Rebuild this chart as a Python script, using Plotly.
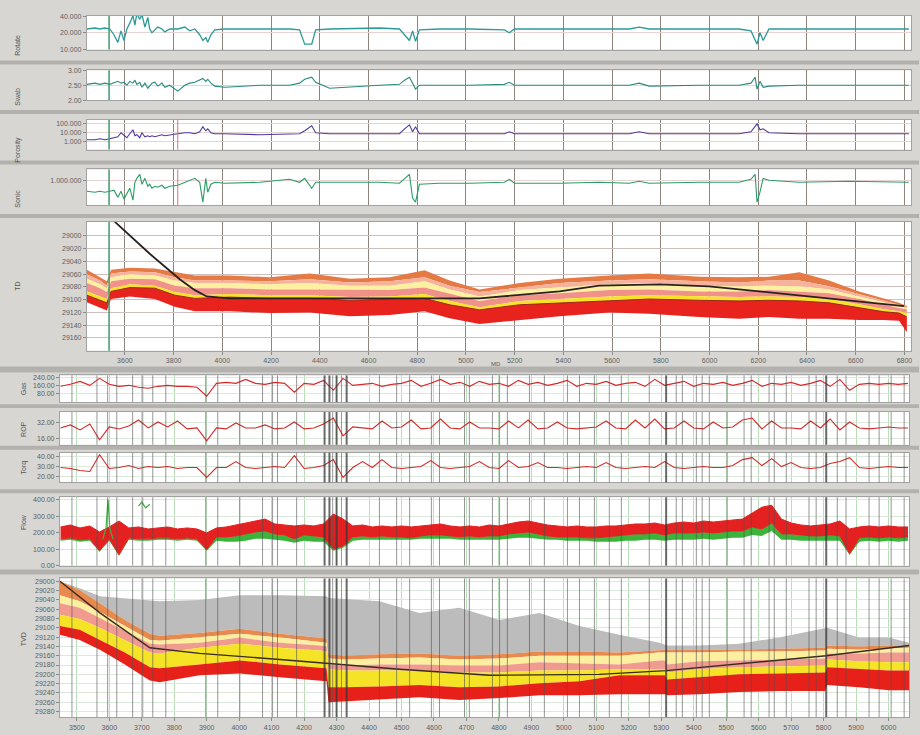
import plotly.graph_objects as go

# ---------------- upper section: MD-indexed tracks ----------------
MD_TICKS = list(range(3600, 6801, 200))
TVD_TICKS = list(range(29000, 29161, 20))

TRK_MD = [3444, 3477, 3497, 3518, 3538, 3555, 3571, 3584, 3596, 3608, 3620, 3633, 3641, 3649,
          3661, 3670, 3682, 3694, 3702, 3711, 3723, 3735, 3752, 3764, 3784, 3817, 3846, 3866,
          3887, 3907, 3920, 3932, 3940, 3953, 3969, 4010, 4153, 4276, 4317, 4338, 4367, 4383,
          4440, 4645, 4727, 4748, 4768, 4781, 4793, 4809, 4891, 5014, 5158, 5178, 5199, 5383,
          5547, 5670, 5711, 5752, 5957, 6121, 6170, 6187, 6195, 6207, 6220, 6244, 6367, 6572,
          6736, 6818]

ROTATE = [23500, 24500, 23500, 24500, 23500, 18400, 13300, 21700, 14400, 23500, 30100, 41700,
          27700, 45200, 35400, 43500, 25500, 38400, 23500, 20000, 22600, 25500, 23500, 20800,
          23500, 23500, 25500, 21700, 23500, 18400, 14400, 16300, 13300, 18400, 22600, 23500,
          23500, 23500, 22600, 12300, 12300, 22600, 23500, 24500, 23500, 18400, 14400, 21700,
          13900, 22600, 23500, 23500, 22600, 20000, 23500, 23500, 23500, 23500, 25500, 23500,
          23500, 23500, 21700, 15000, 12300, 20000, 14400, 23500, 23500, 23500, 23500, 23500]

SWAB = [2.53, 2.57, 2.53, 2.57, 2.53, 2.57, 2.63, 2.57, 2.60, 2.50, 2.63, 2.57, 2.67, 2.53,
        2.60, 2.43, 2.57, 2.40, 2.50, 2.57, 2.60, 2.47, 2.57, 2.43, 2.50, 2.30, 2.50, 2.57,
        2.60, 2.67, 2.73, 2.63, 2.70, 2.57, 2.47, 2.43, 2.50, 2.50, 2.57, 2.70, 2.77, 2.60,
        2.40, 2.50, 2.53, 2.67, 2.77, 2.57, 2.37, 2.50, 2.50, 2.50, 2.53, 2.60, 2.50, 2.50,
        2.50, 2.50, 2.57, 2.47, 2.50, 2.50, 2.57, 2.77, 2.37, 2.63, 2.43, 2.47, 2.50, 2.50,
        2.50, 2.50]

POROSITY = [1670, 1670, 2150, 1670, 2150, 2780, 3590, 10000, 4640, 2780, 7740, 21500, 4640,
            6000, 2780, 10000, 3590, 4640, 3590, 4640, 3590, 4640, 6000, 4640, 6000, 7740,
            10000, 10000, 7740, 12900, 46400, 16700, 27800, 10000, 7740, 7740, 6000, 7740,
            7740, 16700, 60000, 10000, 7740, 7740, 7740, 27800, 77400, 12900, 46400, 7740,
            7740, 7740, 7740, 12900, 7740, 7740, 7740, 7740, 12900, 7740, 7740, 7740, 12900,
            60000, 100000, 21500, 27800, 10000, 7740, 7740, 7740, 7740]

SONIC = [531000, 501000, 531000, 501000, 531000, 562000, 376000, 531000, 335000, 447000,
         631000, 316000, 891000, 1120000, 1410000, 794000, 1120000, 708000, 794000, 631000,
         708000, 668000, 750000, 631000, 708000, 750000, 891000, 1000000, 1120000, 891000,
         282000, 1120000, 501000, 794000, 891000, 841000, 891000, 1060000, 891000, 1120000,
         631000, 891000, 891000, 891000, 841000, 1120000, 1410000, 355000, 282000, 794000,
         841000, 841000, 891000, 1060000, 841000, 841000, 891000, 841000, 944000, 841000,
         891000, 891000, 1060000, 1410000, 282000, 501000, 1120000, 1000000, 891000, 944000,
         891000, 891000]

# TVD window: layered boundaries along MD
BAND_MD = [3444, 3498, 3526, 3543, 3621, 3723, 3805, 3887, 4031, 4195, 4359, 4523, 4687, 4830,
           4933, 5056, 5220, 5384, 5589, 5753, 5958, 6122, 6245, 6368, 6491, 6614, 6716, 6778,
           6810]
B_TOP = [29053, 29064, 29071, 29053, 29050, 29051, 29057, 29062, 29062, 29065, 29059, 29067,
         29065, 29054, 29070, 29084, 29074, 29067, 29062, 29059, 29064, 29065, 29064, 29057,
         29070, 29087, 29098, 29105, 29110]
B_ORANGE = [29060, 29070, 29078, 29059, 29056, 29057, 29065, 29070, 29070, 29071, 29068, 29073,
            29071, 29065, 29078, 29088, 29081, 29074, 29070, 29068, 29071, 29073, 29070, 29070,
            29079, 29091, 29102, 29108, 29112]
B_PALE = [29067, 29076, 29082, 29065, 29060, 29062, 29070, 29074, 29074, 29076, 29074, 29078,
          29078, 29071, 29084, 29095, 29085, 29081, 29076, 29074, 29078, 29079, 29078, 29079,
          29084, 29095, 29105, 29110, 29113]
B_LIGHT = [29074, 29082, 29088, 29071, 29067, 29068, 29078, 29082, 29082, 29084, 29084, 29085,
           29085, 29081, 29091, 29102, 29093, 29090, 29085, 29084, 29087, 29087, 29085, 29087,
           29090, 29099, 29108, 29113, 29115]
B_SALMON = [29087, 29095, 29099, 29082, 29076, 29078, 29088, 29093, 29091, 29093, 29093, 29096,
            29095, 29091, 29102, 29112, 29102, 29099, 29095, 29093, 29095, 29096, 29095, 29096,
            29099, 29107, 29115, 29118, 29121]
B_YELLOW = [29093, 29101, 29105, 29087, 29081, 29082, 29093, 29098, 29096, 29098, 29098, 29101,
            29099, 29098, 29108, 29116, 29108, 29105, 29101, 29099, 29101, 29102, 29101, 29102,
            29105, 29113, 29119, 29121, 29127]
B_RED = [29104, 29113, 29117, 29099, 29095, 29099, 29111, 29118, 29118, 29121, 29120, 29126,
         29124, 29118, 29129, 29138, 29132, 29126, 29120, 29122, 29127, 29130, 29127, 29130,
         29130, 29132, 29132, 29133, 29151]

TRAJ_MD = [3559, 3702, 3825, 3887, 3936, 4031, 5056, 5384, 5547, 5793, 5998, 6203, 6408, 6614, 6798]
TRAJ_TVD = [28978, 29028, 29068, 29085, 29095, 29098, 29098, 29087, 29078, 29076, 29079, 29087,
            29095, 29102, 29110]

GREEN_MARK_MD = [3535]
RED_MARK_MD = [3817]

# ---------------- lower section: time-indexed tracks ----------------
LOW_TICKS = list(range(3500, 6001, 100))
LX = list(range(3450, 6061, 30))

GAS = [150, 170, 200, 160, 230, 170, 150, 160, 140, 130,
       150, 160, 150, 150, 140, 50, 180, 190, 180, 220,
       180, 170, 190, 180, 90, 180, 170, 210, 110, 230,
       160, 170, 180, 150, 170, 180, 210, 150, 180, 220,
       170, 190, 150, 200, 170, 180, 150, 210, 170, 190,
       160, 180, 210, 150, 180, 170, 200, 160, 180, 190,
       150, 220, 160, 180, 200, 150, 180, 170, 190, 160,
       180, 210, 150, 180, 170, 190, 160, 180, 210, 150,
       220, 110, 170, 180, 170, 180, 170, 180]

ROP = [27, 30, 25, 31, 15, 28, 26, 29, 35, 27,
       33, 28, 34, 26, 27, 14, 27, 26, 32, 27,
       27, 30, 26, 27, 33, 26, 27, 31, 37, 19,
       28, 27, 26, 34, 27, 28, 35, 26, 27, 36,
       27, 26, 33, 27, 27, 26, 34, 27, 35, 26,
       27, 33, 27, 26, 27, 28, 34, 27, 26, 35,
       27, 36, 26, 27, 34, 27, 26, 33, 27, 28,
       35, 37, 26, 34, 27, 27, 26, 34, 27, 36,
       25, 33, 27, 26, 27, 28, 27, 27]

TORQ = [29, 28, 26, 25, 42, 28, 29, 31, 28, 30,
        29, 30, 28, 29, 29, 19, 29, 29, 35, 29,
        28, 29, 30, 29, 41, 28, 29, 31, 37, 19,
        29, 35, 29, 37, 29, 28, 29, 30, 36, 29,
        28, 29, 30, 35, 29, 28, 36, 29, 30, 34,
        29, 29, 28, 29, 30, 29, 34, 29, 28, 29,
        30, 29, 35, 29, 28, 29, 30, 29, 29, 31,
        37, 39, 31, 38, 30, 34, 29, 28, 29, 33,
        35, 39, 29, 28, 29, 30, 29, 29]

FLOW_TOP = [234, 246, 228, 240, 204, 234, 270, 228, 234, 222,
            228, 234, 222, 228, 222, 198, 228, 234, 246, 258,
            270, 282, 252, 246, 240, 246, 240, 252, 312, 282,
            240, 246, 234, 240, 234, 240, 234, 240, 246, 252,
            240, 234, 240, 234, 246, 240, 252, 264, 270, 258,
            246, 240, 234, 240, 234, 234, 240, 240, 246, 252,
            252, 258, 246, 258, 264, 258, 270, 264, 270, 276,
            282, 318, 354, 366, 282, 258, 246, 240, 246, 252,
            270, 222, 234, 240, 234, 240, 234, 234]
FLOW_BOT = [162, 168, 156, 162, 90, 162, 66, 168, 162, 162,
            168, 168, 162, 168, 162, 96, 174, 174, 180, 192,
            204, 210, 192, 186, 162, 186, 180, 174, 102, 120,
            174, 180, 174, 180, 174, 174, 168, 180, 186, 186,
            180, 174, 180, 174, 180, 180, 192, 198, 204, 192,
            180, 174, 174, 174, 168, 168, 174, 180, 186, 192,
            192, 198, 186, 198, 198, 198, 204, 198, 204, 210,
            210, 234, 222, 258, 192, 192, 186, 180, 180, 186,
            180, 72, 168, 174, 168, 174, 168, 174]
FLOW_GREEN = [150, 156, 144, 150, 84, 150, 60, 156, 150, 150,
              156, 156, 150, 156, 150, 90, 150, 144, 144, 150,
              162, 162, 156, 150, 138, 150, 144, 144, 90, 108,
              150, 156, 156, 156, 156, 156, 156, 162, 162, 162,
              162, 156, 156, 156, 156, 156, 162, 168, 168, 162,
              156, 156, 150, 150, 150, 144, 144, 144, 150, 150,
              156, 156, 150, 156, 156, 156, 162, 156, 162, 168,
              168, 186, 180, 210, 156, 156, 150, 150, 150, 150,
              150, 66, 144, 150, 144, 150, 144, 150]
# two short green excursions above the flow band (None separates them)
FLOW_SPIKE_X = [3580, 3590, 3596, 3602, 3612, None, 3690, 3700, 3712, 3725]
FLOW_SPIKE_V = [160, 230, 400, 220, 160, None, 360, 385, 350, 372]

EVENTS = [3485, 3562, 3595, 3623, 3672, 3703, 3734, 3774, 3897, 3934, 4002, 4072, 4103, 4118,
          4177, 4263, 4278, 4288, 4300, 4315, 4331, 4432, 4485, 4525, 4592, 4617, 4694, 4709,
          4780, 4802, 4826, 4894, 4940, 5011, 5048, 5094, 5140, 5177, 5263, 5315, 5346, 5365,
          5408, 5426, 5448, 5503, 5555, 5577, 5632, 5648, 5685, 5755, 5777, 5808, 5842, 5869,
          5940, 5971, 6008, 6048]
MAJOR_EVENTS = [4263, 4278, 4300, 4331, 5315, 5808]

P10_TICKS = list(range(29000, 29281, 20))
P10_X = [3448, 3509, 3571, 3648, 3725, 3755, 3878, 4002, 4125, 4248, 4269, 4275, 4325, 4432,
         4555, 4678, 4802, 4925, 5048, 5171, 5294, 5312, 5318, 5417, 5540, 5663, 5805, 5811,
         5909, 6001, 6063]
L_GRAY = [29000, 29015, 29032, 29036, 29040, 29043, 29040, 29030, 29030, 29032, 29032, 29036,
          29038, 29043, 29068, 29057, 29083, 29068, 29096, 29115, 29132, 29136, 29138, 29138,
          29134, 29121, 29100, 29100, 29121, 29121, 29132]
L_ORANGE = [29000, 29019, 29047, 29083, 29113, 29117, 29111, 29102, 29113, 29121, 29123, 29157,
            29160, 29157, 29155, 29160, 29157, 29151, 29151, 29153, 29147, 29147, 29147, 29147,
            29147, 29145, 29143, 29138, 29140, 29138, 29138]
L_LIGHT = [29030, 29043, 29066, 29096, 29126, 29128, 29121, 29113, 29121, 29130, 29132, 29166,
           29168, 29166, 29164, 29168, 29166, 29160, 29160, 29160, 29153, 29153, 29153, 29153,
           29151, 29151, 29149, 29145, 29147, 29145, 29143]
L_SALMON = [29047, 29057, 29079, 29106, 29134, 29136, 29132, 29121, 29132, 29138, 29140, 29179,
            29181, 29179, 29179, 29181, 29181, 29174, 29177, 29179, 29170, 29170, 29179, 29172,
            29170, 29168, 29166, 29155, 29155, 29153, 29153]
L_YELLOW = [29072, 29081, 29100, 29126, 29153, 29155, 29143, 29134, 29143, 29149, 29151, 29189,
            29192, 29192, 29192, 29196, 29196, 29192, 29192, 29189, 29189, 29189, 29196, 29189,
            29185, 29183, 29181, 29168, 29172, 29174, 29174]
L_REDTOP = [29096, 29104, 29126, 29153, 29185, 29187, 29179, 29170, 29179, 29185, 29187, 29228,
            29228, 29226, 29223, 29228, 29226, 29219, 29215, 29202, 29202, 29202, 29211, 29206,
            29200, 29198, 29196, 29185, 29189, 29192, 29192]
L_REDBOT = [29115, 29126, 29147, 29179, 29213, 29217, 29202, 29198, 29206, 29213, 29215, 29260,
            29258, 29253, 29249, 29255, 29251, 29245, 29245, 29243, 29243, 29243, 29245, 29243,
            29238, 29236, 29236, 29223, 29228, 29234, 29234]
TRAJ10_X = [3448, 3571, 3725, 3878, 4125, 4278, 4494, 4771, 5109, 5315, 5808, 6063]
TRAJ10_D = [29000, 29068, 29143, 29155, 29168, 29177, 29189, 29202, 29200, 29192, 29160, 29138]

# ---------------- page geometry ----------------
W, H = 920, 735
UP_X = [87 / W, 912 / W]
LO_X = [60 / W, 910 / W]
PANELS = {1: (12, 46), 2: (67, 97), 3: (117, 147), 4: (167, 203), 5: (220, 350),
          6: (375, 402), 7: (412, 445), 8: (453, 483), 9: (498, 567), 10: (580, 720)}
LABELS = {1: "Rotate", 2: "Swab", 3: "Porosity", 4: "Sonic", 5: "TD",
          6: "Gas", 7: "ROP", 8: "Torq", 9: "Flow", 10: "TVD"}
SEPARATORS = [(57, 61), (107, 111), (158, 162), (212, 216), (366, 372),
              (404, 408), (446, 450), (490, 494), (571, 576)]


def ax(i, kind):
    return kind if i == 1 else f"{kind}{i}"


fig = go.Figure()


def add(i, **kw):
    fig.add_trace(go.Scatter(xaxis=ax(i, "x"), yaxis=ax(i, "y"), hoverinfo="skip", **kw))


# upper log/curve tracks
add(1, x=TRK_MD, y=ROTATE, mode="lines", line=dict(color="#2e9a98", width=1.3))
add(2, x=TRK_MD, y=SWAB, mode="lines", line=dict(color="#2a8a7c", width=1.1))
add(3, x=TRK_MD, y=POROSITY, mode="lines", line=dict(color="#4a3c9c", width=1.1))
add(4, x=TRK_MD, y=SONIC, mode="lines", line=dict(color="#2a9c66", width=1.1))

# TVD bands
NOLINE = dict(width=0, color="rgba(0,0,0,0)")
add(5, x=BAND_MD, y=B_TOP, mode="lines", line=NOLINE)
for arr, col in [(B_ORANGE, "#e57a45"), (B_PALE, "#f6b29c"), (B_LIGHT, "#fdf0a0"),
                 (B_SALMON, "#f1928a"), (B_YELLOW, "#f6e22a"), (B_RED, "#e8221c")]:
    add(5, x=BAND_MD, y=arr, mode="lines", line=NOLINE, fill="tonexty", fillcolor=col)
add(5, x=BAND_MD, y=B_YELLOW, mode="lines", line=dict(color="#9a2a14", width=1))
add(5, x=TRAJ_MD, y=TRAJ_TVD, mode="lines", line=dict(color="#2a2222", width=1.8))

# lower curve tracks
add(6, x=LX, y=GAS, mode="lines", line=dict(color="#d42a2a", width=1.1))
add(7, x=LX, y=ROP, mode="lines", line=dict(color="#d42a2a", width=1.1))
add(8, x=LX, y=TORQ, mode="lines", line=dict(color="#d42a2a", width=1.1))
add(9, x=LX, y=FLOW_BOT, mode="lines", line=NOLINE)
add(9, x=LX, y=FLOW_GREEN, mode="lines", line=NOLINE, fill="tonexty", fillcolor="#3cb43c")
add(9, x=LX, y=FLOW_TOP, mode="lines", line=dict(color="#e42020", width=1))
add(9, x=LX, y=FLOW_BOT, mode="lines", line=dict(color="#e42020", width=1),
    fill="tonexty", fillcolor="#e42020")
add(9, x=FLOW_SPIKE_X, y=FLOW_SPIKE_V, mode="lines", connectgaps=False,
    line=dict(color="#40b040", width=1.2))

# lower TVD bands
add(10, x=P10_X, y=L_GRAY, mode="lines", line=NOLINE)
for arr, col in [(L_ORANGE, "#bdbcbc"), (L_LIGHT, "#e8894e"), (L_SALMON, "#fcefa0"),
                 (L_YELLOW, "#f19a90"), (L_REDTOP, "#f5e426"), (L_REDBOT, "#e8201a")]:
    add(10, x=P10_X, y=arr, mode="lines", line=NOLINE, fill="tonexty", fillcolor=col)
add(10, x=TRAJ10_X, y=TRAJ10_D, mode="lines", line=dict(color="#3a2a22", width=1.4))

# ---------------- axes ----------------
layout = dict(width=W, height=H, margin=dict(l=0, r=0, t=0, b=0),
              paper_bgcolor="#d8d6d2", plot_bgcolor="white", showlegend=False,
              font=dict(family="Liberation Sans, Arial, sans-serif", size=7, color="#5e5e5e"))

Y_SPECS = {
    1: dict(type="log", range=[3.991, 4.613], tickvals=[10000, 20000, 40000],
            ticktext=["10.000", "20.000", "40.000"]),
    2: dict(range=[2.0, 3.0], tickvals=[2.0, 2.5, 3.0], ticktext=["2.00", "2.50", "3.00"]),
    3: dict(type="log", range=[2.111, 5.444], tickvals=[1000, 10000, 100000],
            ticktext=["1.000", "10.000", "100.000"]),
    4: dict(type="log", range=[5.375, 6.275], tickvals=[1000000], ticktext=["1.000.000"]),
    5: dict(range=[29180, 28978], tickvals=TVD_TICKS, ticktext=[str(v) for v in TVD_TICKS]),
    6: dict(range=[-10, 260], tickvals=[80, 160, 240], ticktext=["80.00", "160.00", "240.00"]),
    7: dict(range=[10, 43], tickvals=[16, 32], ticktext=["16.00", "32.00"]),
    8: dict(range=[14, 44], tickvals=[20, 30, 40], ticktext=["20.00", "30.00", "40.00"]),
    9: dict(range=[0, 414], tickvals=[0, 100, 200, 300, 400],
            ticktext=["0.00", "100.00", "200.00", "300.00", "400.00"]),
    10: dict(range=[29292, 28994], tickvals=P10_TICKS, ticktext=[str(v) for v in P10_TICKS]),
}

for i in range(1, 11):
    top, bot = PANELS[i]
    upper = i <= 5
    xa = dict(domain=UP_X if upper else LO_X, anchor=ax(i, "y"),
              range=[3444, 6827] if upper else [3448, 6063],
              tickvals=MD_TICKS if upper else LOW_TICKS,
              ticktext=[str(v) for v in (MD_TICKS if upper else LOW_TICKS)],
              showticklabels=i in (5, 10), ticks="outside" if i in (5, 10) else "",
              ticklen=3, tickcolor="#8a8a8a",
              showgrid=True, gridwidth=1,
              gridcolor=("#8e847c" if upper else "#b9dcb9"),
              showline=True, linecolor="#a2a2a2", mirror=True, zeroline=False)
    ya = dict(domain=[1 - bot / H, 1 - top / H], anchor=ax(i, "x"),
              ticks="outside", ticklen=3, tickcolor="#8a8a8a",
              showgrid=True, gridwidth=1,
              gridcolor=("#e6d4d4" if upper else "#dbe8db"),
              showline=True, linecolor="#a2a2a2", mirror=True, zeroline=False)
    ya.update(Y_SPECS[i])
    if i == 5:
        ya["gridcolor"] = "#cfc0c0"
    layout["xaxis" if i == 1 else f"xaxis{i}"] = xa
    layout["yaxis" if i == 1 else f"yaxis{i}"] = ya

# ---------------- decorations ----------------
shapes = []
for a, b in SEPARATORS:
    shapes.append(dict(type="rect", xref="paper", yref="paper", x0=0, x1=1,
                       y0=1 - b / H, y1=1 - a / H, fillcolor="#b3b1ad", line=dict(width=0),
                       layer="below"))
for i in range(1, 6):
    for m in GREEN_MARK_MD:
        shapes.append(dict(type="line", xref=ax(i, "x"), yref=f"{ax(i, 'y')} domain",
                           x0=m, x1=m, y0=0, y1=1, line=dict(color="#3c9c6c", width=1.5)))
for i in (3, 4):
    for m in RED_MARK_MD:
        shapes.append(dict(type="line", xref=ax(i, "x"), yref=f"{ax(i, 'y')} domain",
                           x0=m, x1=m, y0=0, y1=1, line=dict(color="#d87070", width=1)))
for i in range(6, 11):
    for ev in EVENTS:
        major = ev in MAJOR_EVENTS
        shapes.append(dict(type="line", xref=ax(i, "x"), yref=f"{ax(i, 'y')} domain",
                           x0=ev, x1=ev, y0=0, y1=1, layer="above",
                           line=dict(color="rgba(55,55,55,0.75)" if major else "rgba(80,80,80,0.6)",
                                     width=2 if major else 1)))

annotations = []
for i in range(1, 11):
    top, bot = PANELS[i]
    annotations.append(dict(text=LABELS[i], xref="paper", yref="paper",
                            x=(12 if i <= 5 else 18) / W, y=1 - (top + bot) / 2 / H,
                            textangle=-90, showarrow=False, font=dict(size=7, color="#555555")))
annotations.append(dict(text="MD", xref="paper", yref="paper", x=497 / W, y=1 - 363 / H,
                        showarrow=False, font=dict(size=6, color="#555555")))

layout["shapes"] = shapes
layout["annotations"] = annotations
fig.update_layout(**layout)

fig.write_html("out.html")
